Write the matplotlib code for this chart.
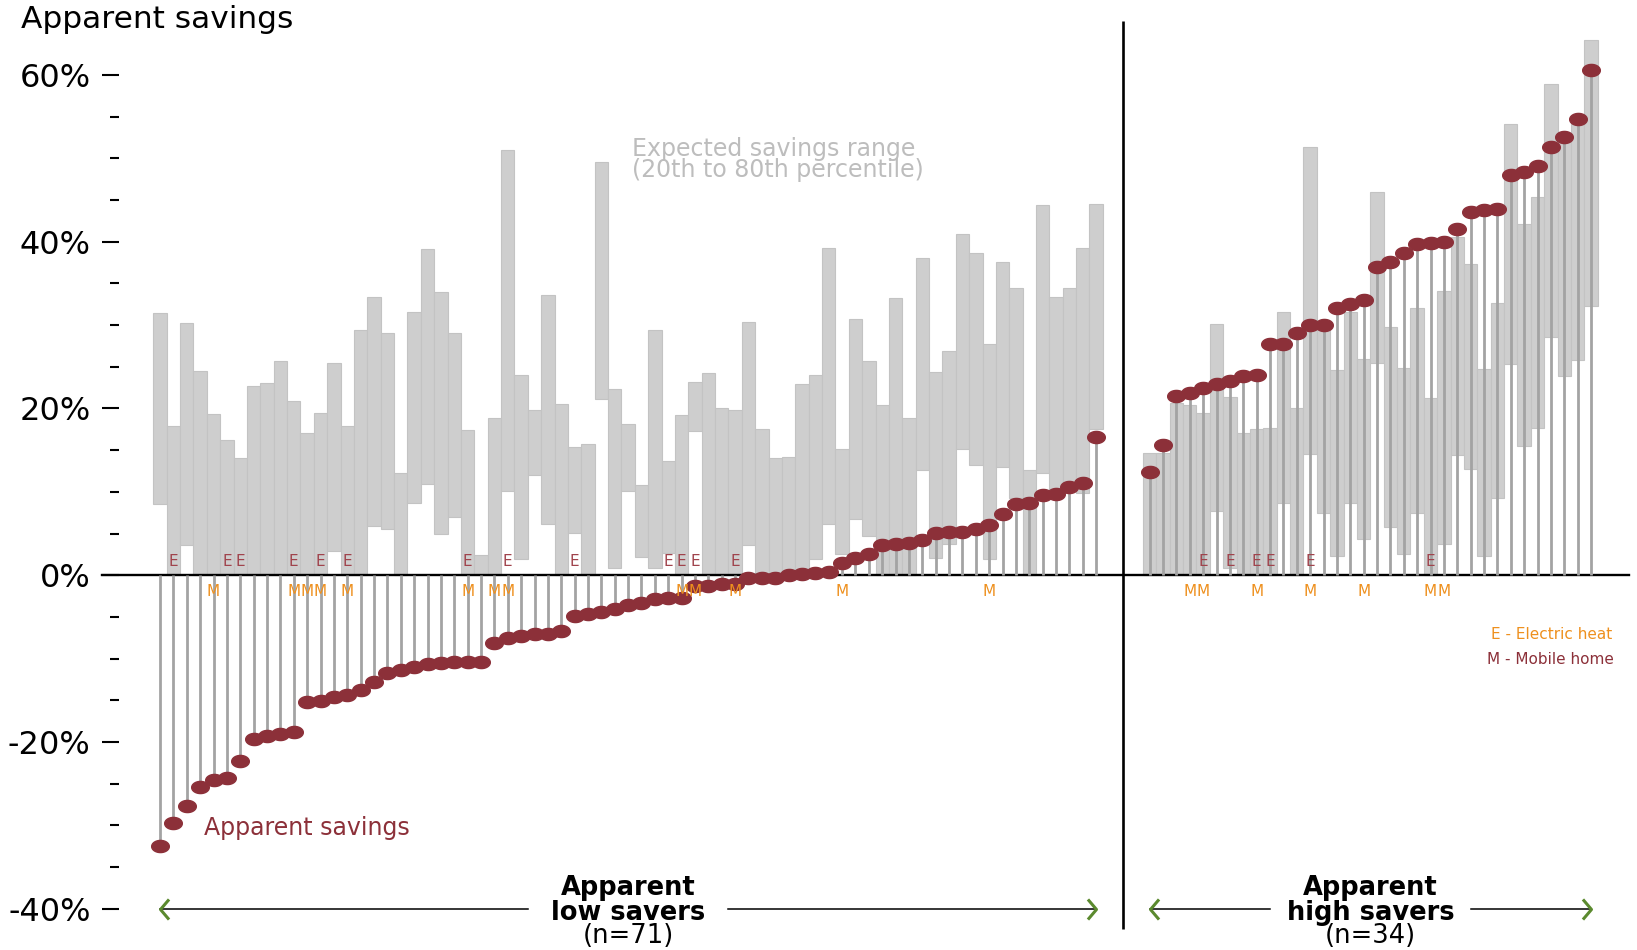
import numpy as np
import matplotlib
matplotlib.use("Agg")
import matplotlib.pyplot as plt
from matplotlib.path import Path

# apparent savings (%) per household, sorted, and expected 20th-80th percentile range
low_dot = [-32.4, -29.7, -27.7, -25.4, -24.6, -24.3, -22.3, -19.6, -19.3, -19.0,
           -18.8, -15.2, -15.1, -14.6, -14.3, -13.7, -12.8, -11.7, -11.4, -11.0,
           -10.6, -10.5, -10.4, -10.4, -10.4, -8.1, -7.5, -7.3, -7.0, -7.0,
           -6.7, -4.9, -4.6, -4.4, -4.0, -3.6, -3.3, -2.9, -2.7, -2.7,
           -1.3, -1.3, -1.1, -1.0, -0.3, -0.3, -0.3, 0.0, 0.2, 0.3,
           0.4, 1.5, 2.1, 2.5, 3.6, 3.8, 3.9, 4.2, 5.1, 5.2,
           5.2, 5.5, 6.0, 7.3, 8.6, 8.7, 9.6, 9.7, 10.6, 11.1,
           16.6]
low_hi = [31.4, 17.9, 30.3, 24.5, 19.3, 16.2, 14.1, 22.7, 23.1, 25.7,
          20.9, 17.1, 19.5, 25.5, 17.9, 29.4, 33.4, 29.0, 12.3, 31.6,
          39.1, 34.0, 29.0, 17.4, 2.4, 18.9, 51.0, 24.0, 19.8, 33.6,
          20.5, 15.4, 15.8, 49.5, 22.3, 18.2, 10.8, 29.4, 13.7, 19.2,
          23.2, 24.3, 20.0, 19.8, 30.4, 17.6, 14.1, 14.2, 22.9, 24.0,
          39.2, 15.2, 30.7, 25.7, 20.4, 33.2, 18.8, 38.0, 24.4, 26.9,
          40.9, 38.7, 27.7, 37.6, 34.5, 12.6, 44.4, 33.4, 34.4, 39.2,
          44.5]
low_lo = [8.6, 0, 3.6, 0, 0, 0, 0, 0, 0, 0,
          0, 0, 0, 2.9, 0, 0, 5.9, 5.5, 0, 8.7,
          11.0, 5.0, 7.0, 0, 0, 0, 10.1, 1.9, 12.0, 6.1,
          0, 5.1, 0, 21.1, 0.9, 10.1, 2.2, 0.9, 2.7, 0,
          17.3, 0, 0, 0, 3.6, 0, 0, 0, 0, 1.9,
          6.2, 2.5, 6.7, 4.7, 0, 0, 0, 12.6, 2.1, 3.8,
          15.1, 13.2, 1.9, 13.0, 9.3, 0, 12.3, 10.4, 10.7, 9.9,
          17.6]

high_dot = [12.4, 15.6, 21.5, 21.8, 22.5, 22.9, 23.3, 23.9, 24.0, 27.7,
            27.7, 29.1, 30.0, 30.0, 32.1, 32.5, 33.0, 37.0, 37.6, 38.7,
            39.7, 39.9, 40.0, 41.5, 43.6, 43.8, 43.9, 48.0, 48.4, 49.1,
            51.4, 52.6, 54.7, 60.6]
high_hi = [14.7, 14.7, 20.7, 20.4, 19.4, 30.1, 21.4, 17.1, 17.6, 17.7,
           31.6, 20.0, 51.4, 30.0, 24.6, 31.6, 25.9, 45.9, 29.8, 24.9,
           32.0, 21.2, 34.1, 40.6, 37.3, 24.7, 32.6, 54.1, 42.1, 45.4,
           58.9, 52.3, 54.4, 64.2]
high_lo = [0, 0, 0, 0, 0, 7.7, 0.9, 0, 0, 0,
           8.7, 0, 14.6, 7.5, 2.3, 8.7, 4.4, 25.4, 5.8, 2.5,
           7.5, 0, 3.8, 14.4, 12.7, 2.3, 9.3, 25.3, 15.5, 17.7,
           28.6, 23.9, 25.8, 32.3]

# households with electric heat (E) / mobile homes (M), by position in each group
low_E = [1, 5, 6, 10, 12, 14, 23, 26, 31, 38, 39, 40, 43]
low_M = [4, 10, 11, 12, 14, 23, 25, 26, 39, 40, 43, 51, 62]
high_E = [4, 6, 8, 9, 12, 21]
high_M = [3, 4, 8, 12, 16, 21, 22]

yticks = [-40, -20, 0, 20, 40, 60]

RED = "#8c3039"
ERED = "#a0434c"
ORANGE = "#ee901e"
BAR = "#cecece"
STEM = "#a3a3a3"
GREEN = "#5b8a2e"
LIGHT = "#bdbdbd"

x_low = np.arange(len(low_dot))
x_high = np.arange(len(high_dot)) + len(low_dot) + 3
x_all = np.concatenate([x_low, x_high])
dots = np.array(low_dot + high_dot)
hi = np.array(low_hi + high_hi)
lo = np.array(low_lo + high_lo)
x_div = (x_low[-1] + x_high[0]) / 2

fig = plt.figure(figsize=(16.37, 9.5), dpi=100)
left = 119 / 1637
ax = fig.add_axes([left, 0, 1 - left, 1])
ax.set_xlim(-3.07, 110.44)
ax.set_ylim(-44.93, 68.98)
for s in ax.spines.values():
    s.set_visible(False)
ax.set_xticks([])

ax.set_yticks(yticks)
ax.set_yticklabels([f"{t}%" for t in yticks])
ax.set_yticks(np.arange(-40, 61, 5), minor=True)
ax.tick_params(axis="y", which="major", length=12.5, width=1.5, pad=8.0, labelsize=23)
ax.tick_params(axis="y", which="minor", length=6.5, width=1.5)

# expected range bars
ax.bar(x_all, hi - lo, bottom=lo, width=1.0, color=BAR, edgecolor="#c3c3c3",
       linewidth=0.8, zorder=1)
ax.axhline(0, xmin=-17.3 / 1518, xmax=(1629 - 119) / 1518, color="black",
           lw=1.7, clip_on=False, zorder=2)
# stems and dots
ax.vlines(x_all, 0, dots, color=STEM, lw=2.0, zorder=3)
t = np.linspace(0, 2 * np.pi, 60)
oval = Path(np.column_stack([1.45 * np.cos(t), np.sin(t)]), closed=True)
ax.plot(x_all, dots, ls="none", marker=oval, ms=12.7, color=RED, zorder=4)

# E / M flags
for idx in low_E:
    ax.text(x_low[idx], 1.6, "E", color=ERED, fontsize=11, ha="center", va="center", zorder=5)
for idx in high_E:
    ax.text(x_high[idx], 1.6, "E", color=ERED, fontsize=11, ha="center", va="center", zorder=5)
for idx in low_M:
    ax.text(x_low[idx], -2.0, "M", color=ORANGE, fontsize=11, ha="center", va="center", zorder=5)
for idx in high_M:
    ax.text(x_high[idx], -2.0, "M", color=ORANGE, fontsize=11, ha="center", va="center", zorder=5)

# divider
ax.vlines(x_div, -42.4, 66.5, color="black", lw=1.9, zorder=6)

# group arrows and labels
left_chev = Path([(0.85, 1), (0, 0), (0.85, -1)])
right_chev = Path([(-0.85, 1), (0, 0), (-0.85, -1)])
groups = [(x_low[0], x_low[-1], "low savers", len(low_dot)),
          (x_high[0], x_high[-1], "high savers", len(high_dot))]
for a, b, name, n in groups:
    c = (a + b) / 2
    ax.plot([a, c - 7.5], [-40, -40], color="black", lw=1.1, zorder=5)
    ax.plot([c + 7.5, b], [-40, -40], color="black", lw=1.1, zorder=5)
    ax.plot([a], [-40], marker=left_chev, ms=14.5, mfc="none", mec=GREEN, mew=2.2, zorder=6)
    ax.plot([b], [-40], marker=right_chev, ms=14.5, mfc="none", mec=GREEN, mew=2.2, zorder=6)
    ax.text(c, -38.3, "Apparent", fontsize=18.5, fontweight="bold", ha="center", va="baseline")
    ax.text(c, -41.3, name, fontsize=18.5, fontweight="bold", ha="center", va="baseline")
    ax.text(c, -44.15, f"(n={n})", fontsize=18.5, ha="center", va="baseline")

ax.text(35.26, 51.1, "Expected savings range", color=LIGHT, fontsize=17, ha="left", va="center")
ax.text(35.26, 48.6, "(20th to 80th percentile)", color=LIGHT, fontsize=17, ha="left", va="center")
ax.text(3.26, -30.3, "Apparent savings", color=RED, fontsize=17, ha="left", va="center")
ax.text(99.5, -7.1, "E - Electric heat", color=ORANGE, fontsize=11, ha="left", va="center")
ax.text(99.25, -10.1, "M - Mobile home", color=RED, fontsize=11, ha="left", va="center")

fig.text(21 / 1637, 1 - 28 / 950, "Apparent savings", fontsize=22.5, va="baseline")

fig.savefig("out.png", dpi=100)
